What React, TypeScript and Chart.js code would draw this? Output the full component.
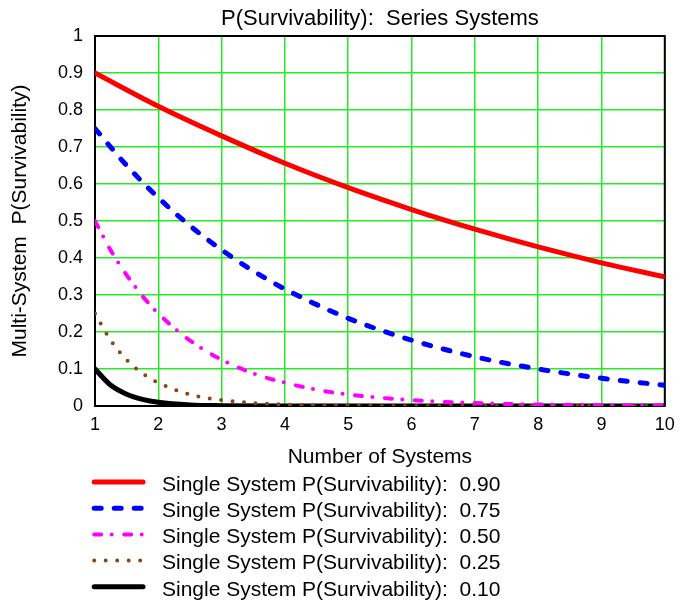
import { useEffect, useRef } from "react";
import { Chart, registerables } from "chart.js";

Chart.register(...registerables);

const FONT = "'Liberation Sans', Arial, Helvetica, sans-serif";

const chartTitle = "P(Survivability):  Series Systems";
const xAxisTitle = "Number of Systems";
const yAxisTitle = "Multi-System  P(Survivability)";

const xTickLabels = ["1", "2", "3", "4", "5", "6", "7", "8", "9", "10"];
const yTickLabels = ["0", "0.1", "0.2", "0.3", "0.4", "0.5", "0.6", "0.7", "0.8", "0.9", "1"];

const seriesLabels = [
  "Single System P(Survivability):  0.90",
  "Single System P(Survivability):  0.75",
  "Single System P(Survivability):  0.50",
  "Single System P(Survivability):  0.25",
  "Single System P(Survivability):  0.10",
];

const x090 = [1, 2, 3, 4, 5, 6, 7, 8, 9, 10];
const y090 = [0.9, 0.81, 0.73, 0.656, 0.59, 0.531, 0.478, 0.43, 0.387, 0.349];

const x075 = [1, 1.5, 2, 2.5, 3, 3.5, 4, 5, 6, 7, 8, 9, 10];
const y075 = [0.75, 0.65, 0.563, 0.487, 0.422, 0.365, 0.316, 0.237, 0.178, 0.133, 0.1, 0.075, 0.056];

const x050 = [1, 1.25, 1.5, 1.75, 2, 2.5, 3, 3.5, 4, 4.5, 5, 6, 7, 8, 9, 10];
const y050 = [0.5, 0.42, 0.354, 0.297, 0.25, 0.177, 0.125, 0.088, 0.063, 0.044, 0.031, 0.016, 0.008, 0.004, 0.002, 0.001];

const x025 = [1, 1.25, 1.5, 1.75, 2, 2.5, 3, 3.5, 4, 5, 6, 7, 8, 9, 10];
const y025 = [0.25, 0.177, 0.125, 0.088, 0.063, 0.031, 0.016, 0.008, 0.004, 0.001, 0, 0, 0, 0, 0];

const x010 = [1, 1.25, 1.5, 1.75, 2, 2.5, 3, 4, 5, 6, 7, 8, 9, 10];
const y010 = [0.1, 0.056, 0.032, 0.018, 0.01, 0.003, 0.001, 0, 0, 0, 0, 0, 0, 0];

const toPoints = (xs: number[], ys: number[]) => xs.map((x, i) => ({ x, y: ys[i] }));

const framePlugin = {
  id: "frame",
  beforeDatasetsDraw(chart: any) {
    const { ctx, chartArea } = chart;
    ctx.save();
    ctx.strokeStyle = "#000";
    ctx.lineWidth = 2;
    ctx.strokeRect(chartArea.left, chartArea.top, chartArea.right - chartArea.left, chartArea.bottom - chartArea.top);
    ctx.restore();
  },
};

const legendPlugin = {
  id: "customLegend",
  afterDraw(chart: any) {
    const ctx = chart.ctx;
    ctx.save();
    chart.data.datasets.forEach((ds: any, i: number) => {
      const y = 482 + i * 26.2;
      ctx.beginPath();
      ctx.strokeStyle = ds.borderColor;
      ctx.lineWidth = ds.borderWidth;
      ctx.lineCap = "round";
      ctx.setLineDash(ds.borderDash || []);
      ctx.moveTo(94.2, y);
      ctx.lineTo(143, y);
      ctx.stroke();
      ctx.setLineDash([]);
      ctx.fillStyle = "#000";
      ctx.font = `21px ${FONT}`;
      ctx.textBaseline = "middle";
      ctx.textAlign = "left";
      ctx.fillText(ds.label, 162, y + 3);
    });
    ctx.restore();
  },
};

export default function App() {
  const canvasRef = useRef<HTMLCanvasElement | null>(null);

  useEffect(() => {
    if (!canvasRef.current) return;
    Chart.defaults.font.family = FONT;
    Chart.defaults.color = "#000";
    const common = {
      pointRadius: 0,
      pointHoverRadius: 0,
      fill: false,
      cubicInterpolationMode: "monotone",
      borderCapStyle: "round",
      borderJoinStyle: "round",
    };
    const chart = new Chart(canvasRef.current, {
      type: "line",
      data: {
        datasets: [
          { ...common, label: seriesLabels[0], data: toPoints(x090, y090), borderColor: "#ff0000", borderWidth: 5, borderDash: [] },
          { ...common, label: seriesLabels[1], data: toPoints(x075, y075), borderColor: "#0000ff", borderWidth: 5, borderDash: [7, 13] },
          { ...common, label: seriesLabels[2], data: toPoints(x050, y050), borderColor: "#ff00ff", borderWidth: 4, borderDash: [7, 10.5, 0, 12.5] },
          { ...common, label: seriesLabels[3], data: toPoints(x025, y025), borderColor: "#8b4513", borderWidth: 4, borderDash: [0, 11.5] },
          { ...common, label: seriesLabels[4], data: toPoints(x010, y010), borderColor: "#000000", borderWidth: 5, borderDash: [] },
        ] as any,
      },
      options: {
        responsive: false,
        animation: false,
        events: [],
        layout: { padding: { left: 0, right: 15, top: 0, bottom: 130 } },
        plugins: {
          legend: { display: false },
          tooltip: { enabled: false },
          title: {
            display: true,
            text: chartTitle,
            fullSize: false,
            font: { size: 22, weight: "normal", family: FONT },
            color: "#000",
            padding: { top: 5.3, bottom: 4.3 },
          },
        },
        scales: {
          x: {
            type: "linear",
            min: 1,
            max: 10,
            border: { display: false },
            grid: { color: "#22ee22", lineWidth: 1.5, drawTicks: false },
            ticks: {
              stepSize: 1,
              padding: 8.2,
              font: { size: 18, family: FONT },
              color: "#000",
              maxRotation: 0,
              callback: (_v: any, i: number) => xTickLabels[i],
            },
            title: {
              display: true,
              text: xAxisTitle,
              font: { size: 21, family: FONT },
              color: "#000",
              padding: { top: 0, bottom: 2.4 },
            },
            afterFit: (scale: any) => {
              scale.height = 66;
            },
          },
          y: {
            type: "linear",
            min: 0,
            max: 1,
            border: { display: false },
            grid: { color: "#22ee22", lineWidth: 1.5, drawTicks: false },
            ticks: {
              stepSize: 0.1,
              padding: 12,
              font: { size: 18, family: FONT },
              color: "#000",
              callback: (_v: any, i: number) => yTickLabels[i],
            },
            title: {
              display: true,
              text: yAxisTitle,
              font: { size: 21, family: FONT },
              color: "#000",
              padding: { top: 7.4, bottom: 0 },
            },
            afterFit: (scale: any) => {
              scale.width = 95;
            },
          },
        },
      } as any,
      plugins: [framePlugin, legendPlugin],
    });
    return () => chart.destroy();
  }, []);

  return (
    <div style={{ position: "absolute", left: 0, top: 0, width: 683, height: 602, background: "#fff" }}>
      <canvas ref={canvasRef} width={683} height={602} style={{ width: 683, height: 602, display: "block" }} />
    </div>
  );
}
